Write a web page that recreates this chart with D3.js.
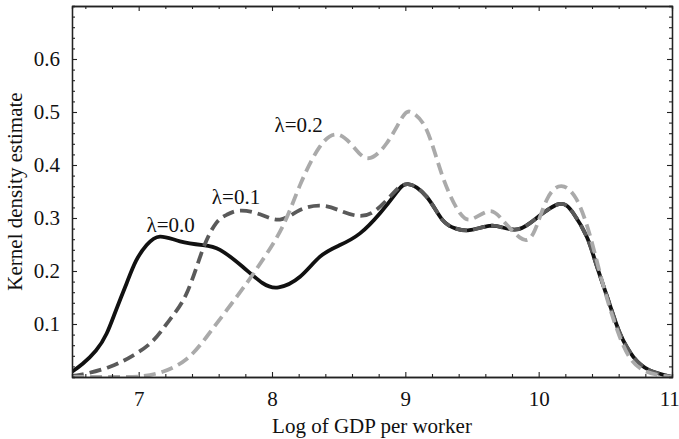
<!DOCTYPE html>
<meta charset="utf-8">
<script src="https://d3js.org/d3.v7.min.js"></script>
<style>
    body { margin: 0; background: #fff; }
    text { font-family: "Liberation Serif", "Times New Roman", serif; fill: #111; }
</style>
<svg id="chart"></svg>
<script>
    // kernel density estimates, one array pair per lambda
    var x0 = [6.5, 6.58, 6.68, 6.76, 6.83, 6.91, 6.98, 7.06, 7.16, 7.31, 7.48, 7.61, 7.78, 7.93, 8.05, 8.21, 8.36, 8.51, 8.66, 8.81, 8.93, 9.02, 9.16, 9.28, 9.38, 9.48, 9.63, 9.73, 9.85, 9.98, 10.15, 10.26, 10.36, 10.43, 10.53, 10.61, 10.71, 10.83, 11.0];
    var y0 = [0.01, 0.025, 0.05, 0.082, 0.126, 0.177, 0.219, 0.249, 0.265, 0.256, 0.249, 0.24, 0.208, 0.177, 0.169, 0.189, 0.227, 0.249, 0.271, 0.309, 0.347, 0.364, 0.34, 0.296, 0.28, 0.277, 0.285, 0.282, 0.279, 0.299, 0.326, 0.309, 0.265, 0.214, 0.139, 0.082, 0.038, 0.013, 0.0];

    var x1 = [6.5, 6.58, 6.78, 6.96, 7.11, 7.23, 7.36, 7.48, 7.58, 7.66, 7.76, 7.91, 8.06, 8.21, 8.38, 8.53, 8.66, 8.78, 8.91, 9.02, 9.16, 9.28, 9.38, 9.48, 9.63, 9.73, 9.85, 9.98, 10.15, 10.26, 10.36, 10.43, 10.53, 10.61, 10.71, 10.83, 11.0];
    var y1 = [0.002, 0.005, 0.019, 0.041, 0.069, 0.107, 0.158, 0.24, 0.29, 0.306, 0.314, 0.307, 0.297, 0.315, 0.323, 0.312, 0.304, 0.315, 0.347, 0.364, 0.34, 0.296, 0.28, 0.277, 0.285, 0.282, 0.279, 0.299, 0.326, 0.309, 0.265, 0.214, 0.139, 0.082, 0.038, 0.013, 0.0];

    var x2 = [6.5, 6.8, 7.0, 7.18, 7.36, 7.51, 7.66, 7.81, 7.93, 8.08, 8.21, 8.36, 8.5, 8.63, 8.73, 8.86, 8.98, 9.05, 9.16, 9.28, 9.41, 9.51, 9.63, 9.73, 9.86, 9.96, 10.06, 10.17, 10.28, 10.38, 10.48, 10.58, 10.68, 10.81, 11.0];
    var y2 = [0.0, 0.0, 0.001, 0.01, 0.034, 0.076, 0.126, 0.177, 0.221, 0.284, 0.362, 0.435, 0.457, 0.429, 0.413, 0.441, 0.491, 0.499, 0.466, 0.378, 0.309, 0.299, 0.313, 0.296, 0.263, 0.271, 0.334, 0.36, 0.337, 0.271, 0.177, 0.095, 0.038, 0.01, 0.0];

    var seriesNames = ["λ=0.0", "λ=0.1", "λ=0.2"];
    var labelAt = [[7.24, 0.274], [7.73, 0.326], [8.2, 0.462]];
    var xTicks = [7, 8, 9, 10, 11];
    var yTicks = [0.1, 0.2, 0.3, 0.4, 0.5, 0.6];

    var W = 679, H = 439;
    var margin = {top: 6, right: 7, bottom: 62, left: 72};
    var width = W - margin.left - margin.right,
        height = H - margin.top - margin.bottom;

    var svg = d3.select("#chart").attr("width", W).attr("height", H);
    var g = svg.append("g").attr("transform", "translate(" + margin.left + "," + margin.top + ")");

    var x = d3.scaleLinear().domain([6.5, 11]).range([0, width]);
    var y = d3.scaleLinear().domain([0, 0.7]).range([height, 0]);

    var line = d3.line()
        .x(function(d) { return x(d[0]); })
        .y(function(d) { return y(d[1]); })
        .curve(d3.curveNatural);

    var styles = [
        {color: "#111", dash: null},
        {color: "#5a5a5a", dash: "12,6"},
        {color: "#aaaaaa", dash: "12,6"}
    ];
    var data = [d3.zip(x0, y0), d3.zip(x1, y1), d3.zip(x2, y2)];

    svg.append("clipPath").attr("id", "clip").append("rect")
        .attr("y", -5).attr("width", width).attr("height", height + 5);

    data.forEach(function(d, i) {
        g.append("path")
            .datum(d)
            .attr("clip-path", "url(#clip)")
            .attr("fill", "none")
            .attr("stroke", styles[i].color)
            .attr("stroke-width", 3.8)
            .attr("stroke-dasharray", styles[i].dash)
            .attr("d", line);
    });

    // curve labels
    g.selectAll(".lbl")
        .data(seriesNames)
        .enter().append("text")
        .attr("x", function(d, i) { return x(labelAt[i][0]); })
        .attr("y", function(d, i) { return y(labelAt[i][1]); })
        .attr("text-anchor", "middle")
        .style("font-family", "'Liberation Serif', serif")
        .style("font-size", "21px")
        .text(function(d) { return d; });

    // axes with inward ticks on all four sides
    var minorX = d3.range(6.6, 11.0, 0.2).filter(function(v) { return Math.abs(v - Math.round(v)) > 0.01; });
    var minorY = d3.range(0.02, 0.7, 0.02).filter(function(v) { return Math.abs(v * 10 - Math.round(v * 10)) > 0.01; });

    function styleAxis(sel) {
        sel.select(".domain").attr("stroke", "#222").attr("stroke-width", 1.3);
        sel.selectAll(".tick line").attr("stroke", "#222").attr("stroke-width", 1.1);
    }

    var axBottom = g.append("g").attr("transform", "translate(0," + height + ")")
        .call(d3.axisBottom(x).tickValues(xTicks).tickSizeInner(-5).tickSizeOuter(0).tickPadding(14).tickFormat(d3.format("d")));
    g.append("g").attr("transform", "translate(0," + height + ")")
        .call(d3.axisBottom(x).tickValues(minorX).tickSize(-3).tickFormat("")).call(styleAxis);
    styleAxis(axBottom);

    var axTop = g.append("g")
        .call(d3.axisTop(x).tickValues(xTicks).tickSizeInner(-5).tickSizeOuter(0).tickFormat(""));
    g.append("g").call(d3.axisTop(x).tickValues(minorX).tickSize(-3).tickFormat("")).call(styleAxis);
    styleAxis(axTop);

    var axLeft = g.append("g")
        .call(d3.axisLeft(y).tickValues(yTicks).tickSizeInner(-5).tickSizeOuter(0).tickPadding(12).tickFormat(d3.format(".1f")));
    g.append("g").call(d3.axisLeft(y).tickValues(minorY).tickSize(-3).tickFormat("")).call(styleAxis);
    styleAxis(axLeft);

    var axRight = g.append("g").attr("transform", "translate(" + width + ",0)")
        .call(d3.axisRight(y).tickValues(yTicks).tickSizeInner(-5).tickSizeOuter(0).tickFormat(""));
    g.append("g").attr("transform", "translate(" + width + ",0)")
        .call(d3.axisRight(y).tickValues(minorY).tickSize(-3).tickFormat("")).call(styleAxis);
    styleAxis(axRight);

    g.selectAll(".tick text")
        .attr("fill", "#111")
        .style("font-family", "'Liberation Serif', serif")
        .style("font-size", "21px");
    // keep the last x label inside the window
    axBottom.selectAll(".tick text").filter(function(d) { return d === 11; }).attr("text-anchor", "end").attr("dx", "0.35em");

    // axis titles
    svg.append("text")
        .attr("x", margin.left + width / 2)
        .attr("y", 433)
        .attr("text-anchor", "middle")
        .style("font-family", "'Liberation Serif', serif")
        .style("font-size", "21px")
        .text("Log of GDP per worker");

    svg.append("text")
        .attr("transform", "translate(22," + (margin.top + height / 2) + ") rotate(-90)")
        .attr("text-anchor", "middle")
        .style("font-family", "'Liberation Serif', serif")
        .style("font-size", "21px")
        .text("Kernel density estimate");
</script>
